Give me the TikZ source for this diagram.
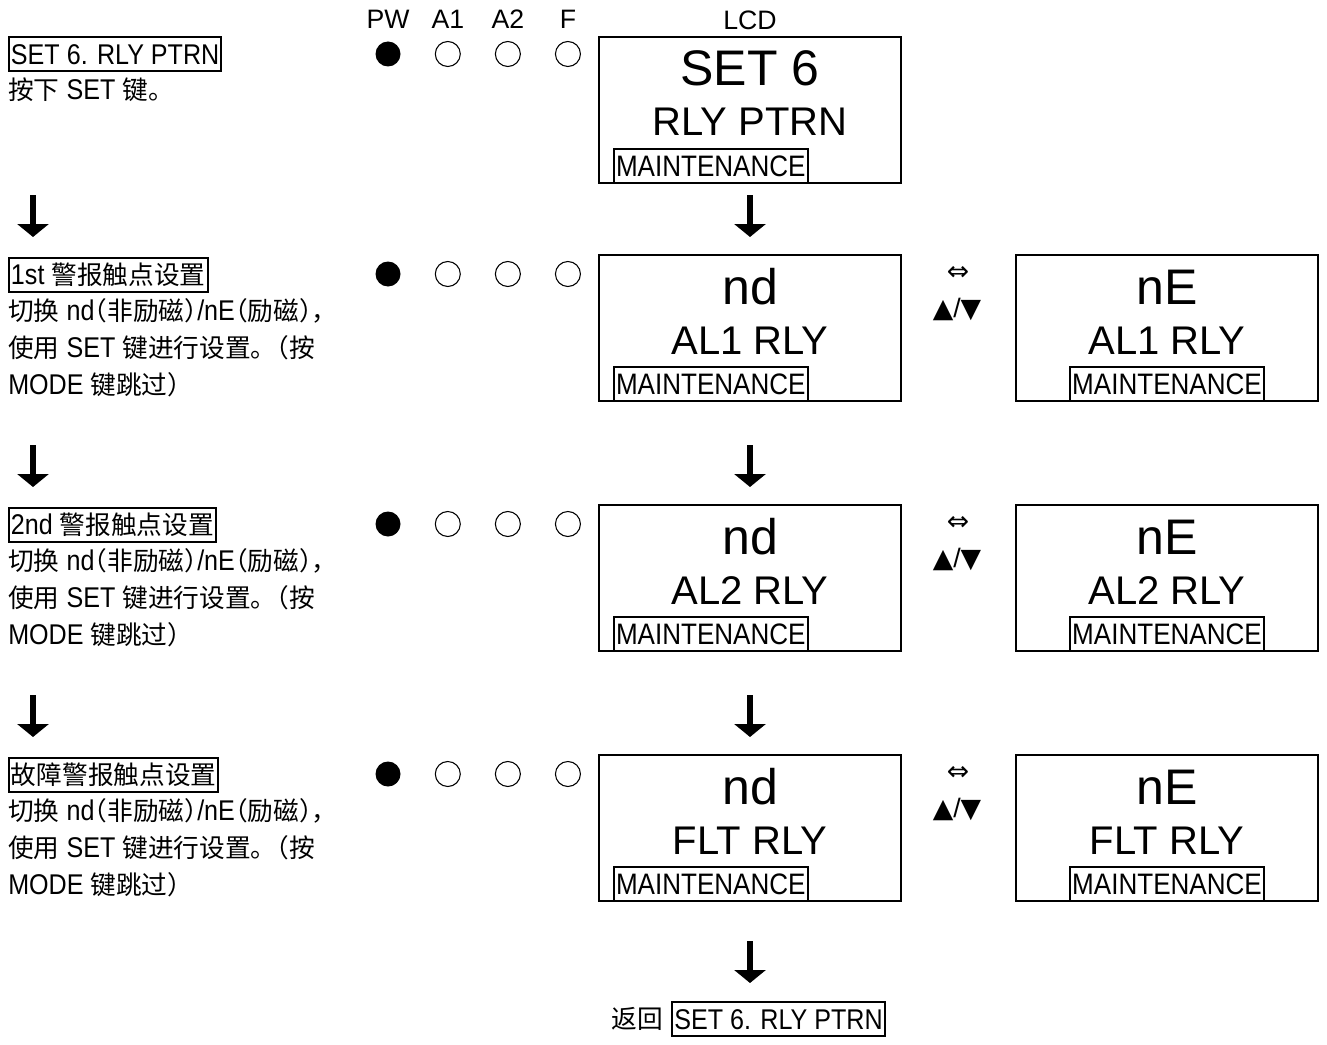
\documentclass[tikz,border=0pt]{standalone}
\usepackage{fontspec}
\setmainfont{Liberation Sans}[FakeStretch=0.88]
\newfontfamily\lcdfont{Liberation Sans}
\newfontfamily\cjk{Noto Sans CJK SC}[Scale=0.9,RawFeature=+halt]
\newfontfamily\cjkfull{Noto Sans CJK SC}[Scale=0.9]
\newfontfamily\symfont{DejaVu Sans}
\newcommand{\zh}[1]{{\cjk #1}}
\usetikzlibrary{arrows.meta,positioning}
\tikzset{
  flowarrow/.style={-{Triangle[length=9.75pt,width=23.25pt]},line width=4.5pt},
  lcd/.style={draw,line width=1.5pt,minimum width=226.5pt,minimum height=109.5pt,inner sep=0pt},
  lcdtop/.style={font=\lcdfont\fontsize{37.5}{40}\selectfont,anchor=base,inner sep=0pt},
  lcdmid/.style={font=\lcdfont\fontsize{30}{32}\selectfont,anchor=base,inner sep=0pt},
  titlebox/.style={draw,line width=1.5pt,inner xsep=1.5pt,inner ysep=1.5pt,text height=19pt,text depth=3.5pt,font=\fontsize{21.4}{24}\selectfont},
  mntbox/.style={titlebox,font=\fontsize{22.2}{24}\selectfont},
  desc/.style={align=left,inner sep=0pt,font=\fontsize{21.4}{27.75}\selectfont},
  ledon/.style={circle,fill=black,minimum size=18.75pt,inner sep=0pt},
  ledoff/.style={circle,draw,line width=0.8pt,minimum size=18.75pt,inner sep=0pt},
  ledlabel/.style={font=\lcdfont\fontsize{20}{22}\selectfont,anchor=base,inner sep=0pt},
  swapsym/.style={font=\symfont\fontsize{20}{22}\selectfont,inner sep=0pt},
  updown/.style={font=\lcdfont\fontsize{20}{22}\selectfont,inner sep=0pt}
}

\begin{document}
\begin{tikzpicture}[x=0.75pt,y=-0.75pt,node distance=25.5pt]
  \useasboundingbox (0,0) rectangle (1327,1045);

  % LED and LCD headings
  \node[ledlabel] (lpw) at (388,29) {PW};
  \node[ledlabel] (la1) at (448,29) {A1};
  \node[ledlabel] (la2) at (508,29) {A2};
  \node[ledlabel] (lf) at (568,29) {F};
  \node[ledlabel] (llcd) at (750,30) {LCD};

  % SET 6
  \node[titlebox,anchor=west] (tset) at (8,54.5) {SET 6. RLY PTRN};
  \node[desc,below=4pt of tset.south west,anchor=north west] (dset) {\zh{按下} SET \zh{键。}};
  \node[ledon] (pw1) at (388,54) {};
  \node[ledoff,right=of pw1] (alone1) {};
  \node[ledoff,right=of alone1] (altwo1) {};
  \node[ledoff,right=of altwo1] (fault1) {};
  \node[lcd] (lcdset) at (750,110) {};
  \node[lcdtop] at ([yshift=-37.5pt]lcdset.north) {SET 6};
  \node[lcdmid] at ([yshift=-75pt]lcdset.north) {RLY PTRN};
  \node[mntbox,anchor=south west] (mset) at ([xshift=11.25pt]lcdset.south west) {MAINTENANCE};

  % 1st alarm relay
  \node[titlebox,anchor=west] (tal1) at (8,274.5) {1st \zh{警报触点设置}};
  \node[desc,below=4pt of tal1.south west,anchor=north west] (dal1) {\zh{切换} nd\zh{（非励磁）}/nE\zh{（励磁），}\\\zh{使用} SET \zh{键进行设置}{\cjkfull 。}\zh{（按}\\MODE \zh{键跳过）}};
  \node[ledon] (pw2) at (388,274) {};
  \node[ledoff,right=of pw2] (alone2) {};
  \node[ledoff,right=of alone2] (altwo2) {};
  \node[ledoff,right=of altwo2] (fault2) {};
  \node[lcd] (lcdal1) at (750,328) {};
  \node[lcdtop] at ([yshift=-37.5pt]lcdal1.north) {nd};
  \node[lcdmid] at ([yshift=-75pt]lcdal1.north) {AL1 RLY};
  \node[mntbox,anchor=south west] (mal1) at ([xshift=11.25pt]lcdal1.south west) {MAINTENANCE};
  \node[lcd,right=84.75pt of lcdal1] (lcdal1e) {};
  \node[lcdtop] at ([yshift=-37.5pt]lcdal1e.north) {nE};
  \node[lcdmid] at ([yshift=-75pt]lcdal1e.north) {AL1 RLY};
  \node[mntbox,anchor=south] (mal1e) at (lcdal1e.south) {MAINTENANCE};
  \node[swapsym] (swal1) at (958,273) {⇔};
  \node[updown] (udal1) at (957,309) {{\symfont ▲}/{\symfont ▼}};

  % 2nd alarm relay
  \node[titlebox,anchor=west] (tal2) at (8,524.5) {2nd \zh{警报触点设置}};
  \node[desc,below=4pt of tal2.south west,anchor=north west] (dal2) {\zh{切换} nd\zh{（非励磁）}/nE\zh{（励磁），}\\\zh{使用} SET \zh{键进行设置}{\cjkfull 。}\zh{（按}\\MODE \zh{键跳过）}};
  \node[ledon] (pw3) at (388,524) {};
  \node[ledoff,right=of pw3] (alone3) {};
  \node[ledoff,right=of alone3] (altwo3) {};
  \node[ledoff,right=of altwo3] (fault3) {};
  \node[lcd] (lcdal2) at (750,578) {};
  \node[lcdtop] at ([yshift=-37.5pt]lcdal2.north) {nd};
  \node[lcdmid] at ([yshift=-75pt]lcdal2.north) {AL2 RLY};
  \node[mntbox,anchor=south west] (mal2) at ([xshift=11.25pt]lcdal2.south west) {MAINTENANCE};
  \node[lcd,right=84.75pt of lcdal2] (lcdal2e) {};
  \node[lcdtop] at ([yshift=-37.5pt]lcdal2e.north) {nE};
  \node[lcdmid] at ([yshift=-75pt]lcdal2e.north) {AL2 RLY};
  \node[mntbox,anchor=south] (mal2e) at (lcdal2e.south) {MAINTENANCE};
  \node[swapsym] (swal2) at (958,523) {⇔};
  \node[updown] (udal2) at (957,559) {{\symfont ▲}/{\symfont ▼}};

  % fault relay
  \node[titlebox,anchor=west] (tflt) at (8,774.5) {\zh{故障警报触点设置}};
  \node[desc,below=4pt of tflt.south west,anchor=north west] (dflt) {\zh{切换} nd\zh{（非励磁）}/nE\zh{（励磁），}\\\zh{使用} SET \zh{键进行设置}{\cjkfull 。}\zh{（按}\\MODE \zh{键跳过）}};
  \node[ledon] (pw4) at (388,774) {};
  \node[ledoff,right=of pw4] (alone4) {};
  \node[ledoff,right=of alone4] (altwo4) {};
  \node[ledoff,right=of altwo4] (fault4) {};
  \node[lcd] (lcdflt) at (750,828) {};
  \node[lcdtop] at ([yshift=-37.5pt]lcdflt.north) {nd};
  \node[lcdmid] at ([yshift=-75pt]lcdflt.north) {FLT RLY};
  \node[mntbox,anchor=south west] (mflt) at ([xshift=11.25pt]lcdflt.south west) {MAINTENANCE};
  \node[lcd,right=84.75pt of lcdflt] (lcdflte) {};
  \node[lcdtop] at ([yshift=-37.5pt]lcdflte.north) {nE};
  \node[lcdmid] at ([yshift=-75pt]lcdflte.north) {FLT RLY};
  \node[mntbox,anchor=south] (mflte) at (lcdflte.south) {MAINTENANCE};
  \node[swapsym] (swflt) at (958,773) {⇔};
  \node[updown] (udflt) at (957,809) {{\symfont ▲}/{\symfont ▼}};

  % return
  \node[titlebox] (back) at (778.5,1019) {SET 6. RLY PTRN};
  \node[desc,left=6pt of back] (backzh) {\zh{返回}};

  % arrows
  \coordinate (lx) at (33,0);
  \coordinate (gal1) at ([yshift=12.75pt]lcdal1.north);
  \coordinate (gal2) at ([yshift=12.75pt]lcdal2.north);
  \coordinate (gflt) at ([yshift=12.75pt]lcdflt.north);
  \coordinate (gback) at ([yshift=13.5pt]lcdflt.south |- back.north);
  \coordinate (hal1) at (gal1 -| lx);
  \coordinate (hal2) at (gal2 -| lx);
  \coordinate (hflt) at (gflt -| lx);
  \draw[flowarrow] ([yshift=31.5pt]gal1) -- (gal1);
  \draw[flowarrow] ([yshift=31.5pt]gal2) -- (gal2);
  \draw[flowarrow] ([yshift=31.5pt]gflt) -- (gflt);
  \draw[flowarrow] ([yshift=31.5pt]gback) -- (gback);
  \draw[flowarrow] ([yshift=31.5pt]hal1) -- (hal1);
  \draw[flowarrow] ([yshift=31.5pt]hal2) -- (hal2);
  \draw[flowarrow] ([yshift=31.5pt]hflt) -- (hflt);
\end{tikzpicture}
\end{document}
